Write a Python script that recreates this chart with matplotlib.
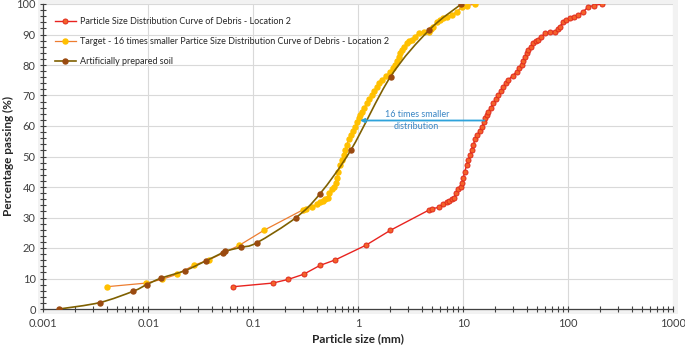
import numpy as np
import matplotlib.pyplot as plt
from matplotlib.path import Path
from matplotlib.patches import PathPatch, Rectangle
from matplotlib.ticker import LogLocator, MultipleLocator, FixedLocator, FixedFormatter, NullFormatter

plt.rcParams['font.family'] = ['Lato', 'DejaVu Sans']

# Particle size distribution of debris - location 2 (mm, % passing)
debris_size = [0.064, 0.153, 0.215, 0.302, 0.432, 0.604, 1.18, 2.02, 4.74, 5.03,
               5.83, 6.45, 6.95, 7.3, 7.76, 8.15, 8.45, 8.96, 9.45, 9.74,
               10.0, 10.3, 10.8, 11.2, 11.6, 12.0, 12.4, 13.0, 13.6, 14.3,
               15.0, 15.6, 16.1, 16.7, 17.3, 18.2, 19.3, 20.4, 21.6, 22.8,
               24.0, 25.4, 26.8, 29.5, 32.3, 34.2, 36.0, 37.4, 38.7, 40.2,
               41.7, 44.0, 46.4, 49.0, 51.8, 55.5, 60.0, 67.0, 74.6, 79.0,
               83.1, 89.5, 95.0, 103.6, 113.0, 124.0, 139.0, 155.0, 175.0, 208.0]
debris_pass = [7.3, 8.5, 9.7, 11.4, 14.3, 16.1, 20.9, 25.8, 32.5, 32.9,
               33.3, 34.5, 35.2, 35.5, 36.0, 36.5, 37.9, 39.2, 40.1, 41.2,
               42.9, 45.0, 47.2, 48.9, 50.5, 52.1, 53.8, 55.6, 57.0, 58.5,
               59.6, 61.2, 62.5, 63.5, 64.7, 66.0, 67.4, 68.8, 70.2, 71.6,
               72.9, 74.0, 75.1, 76.5, 77.8, 78.9, 80.0, 81.4, 82.7, 83.8,
               84.9, 86.0, 87.1, 87.8, 88.2, 89.3, 90.4, 90.7, 90.9, 91.8,
               92.6, 94.2, 94.8, 95.3, 95.9, 96.4, 97.5, 99.1, 99.5, 100.0]

# target curve, 16 times smaller
target_size = [0.0040, 0.00956, 0.01344, 0.01888, 0.0270, 0.03775, 0.07375, 0.12625, 0.29625, 0.3144,
               0.3644, 0.4031, 0.4344, 0.4563, 0.485, 0.5094, 0.5281, 0.56, 0.5906, 0.6088,
               0.625, 0.6438, 0.675, 0.70, 0.725, 0.75, 0.775, 0.8125, 0.85, 0.8938,
               0.9375, 0.975, 1.006, 1.044, 1.081, 1.1375, 1.206, 1.275, 1.35, 1.425,
               1.5, 1.5875, 1.675, 1.844, 2.019, 2.1375, 2.25, 2.3375, 2.419, 2.5125,
               2.606, 2.75, 2.9, 3.0625, 3.2375, 3.469, 3.75, 4.1875, 4.6625, 4.9375,
               5.194, 5.594, 5.9375, 6.475, 7.0625, 7.75, 8.6875, 9.6875, 10.9375, 13.0]
target_pass = debris_pass

# artificially prepared soil
soil_size = [0.00142, 0.00344, 0.00715, 0.00966, 0.0132, 0.0224, 0.0354, 0.0512, 0.0541,
             0.0759, 0.1077, 0.2533, 0.432, 0.852, 2.03, 4.74, 9.6]
soil_pass = [0.0, 2.1, 5.8, 8.0, 10.1, 12.6, 15.8, 18.5, 19.0,
             20.2, 21.7, 29.9, 37.8, 52.2, 76.2, 91.5, 100.0]

x_ticks = [0.001, 0.01, 0.1, 1, 10, 100, 1000]
x_tick_labels = ['0.001', '0.01', '0.1', '1', '10', '100', '1000']


def smooth_path(xs, ys):
    # excel style smoothed line: bezier segments built in log-x space
    lx = np.log10(xs)
    ys = np.asarray(ys, dtype=float)
    n = len(lx)
    verts = [(xs[0], ys[0])]
    codes = [Path.MOVETO]
    for i in range(n - 1):
        p0 = (lx[max(i - 1, 0)], ys[max(i - 1, 0)])
        p1 = (lx[i], ys[i])
        p2 = (lx[i + 1], ys[i + 1])
        p3 = (lx[min(i + 2, n - 1)], ys[min(i + 2, n - 1)])
        c1 = (p1[0] + (p2[0] - p0[0]) / 6, p1[1] + (p2[1] - p0[1]) / 6)
        c2 = (p2[0] - (p3[0] - p1[0]) / 6, p2[1] - (p3[1] - p1[1]) / 6)
        verts += [(10 ** c1[0], c1[1]), (10 ** c2[0], c2[1]), (10 ** p2[0], p2[1])]
        codes += [Path.CURVE4] * 3
    return Path(verts, codes)


fig = plt.figure(figsize=(6.85, 3.49), dpi=100)
fig.patches.append(Rectangle((38 / 685, 1 - 314 / 349), 640 / 685, 314 / 349,
                             transform=fig.transFigure, facecolor='#F2F2F2',
                             edgecolor='none', zorder=-10))
ax = fig.add_axes([43.3 / 685, 1 - 309 / 349, 630 / 685, 305 / 349])
ax.set_facecolor('white')

ax.plot(debris_size, debris_pass, color='#E8231F', lw=1.0, marker='o', ms=3.6,
        mfc='#F4622A', mec='#E02A1E', mew=0.7, zorder=3,
        label='Particle Size Distribution Curve of Debris - Location 2')
ax.plot(target_size, target_pass, color='#ED7D31', lw=0.9, marker='o', ms=3.6,
        mfc='#FFC000', mec='#FFC000', zorder=4,
        label='Target - 16 times smaller Partice Size Distribution Curve of Debris - Location 2')
ax.add_patch(PathPatch(smooth_path(soil_size, soil_pass), facecolor='none',
                       edgecolor='#7F6000', lw=1.2, zorder=5))
ax.plot(soil_size, soil_pass, color='#7F6000', lw=1.2, ls='none', marker='o', ms=3.6,
        mfc='#9A4A10', mec='#9A4A10', zorder=6)
ax.plot([], [], color='#7F6000', lw=1.2, marker='o', ms=3.6, mfc='#9A4A10', mec='#9A4A10',
        label='Artificially prepared soil')

ax.annotate('', xy=(1.04, 61.8), xytext=(15.85, 61.8),
            arrowprops=dict(arrowstyle='-|>', color='#2EA3DB', lw=1.3,
                            mutation_scale=6, shrinkA=0, shrinkB=0), zorder=7)
ax.text(3.6, 61.8, '16 times smaller\ndistribution', color='#3A86C4', fontsize=6.5,
        ha='center', va='center', linespacing=1.5, zorder=7)

ax.set_xscale('log')
ax.set_xlim(0.001, 1000)
ax.set_ylim(0, 100)
ax.xaxis.set_major_locator(FixedLocator(x_ticks))
ax.xaxis.set_major_formatter(FixedFormatter(x_tick_labels))
ax.xaxis.set_minor_locator(LogLocator(base=10, subs=np.arange(2, 10)))
ax.xaxis.set_minor_formatter(NullFormatter())
ax.yaxis.set_major_locator(MultipleLocator(10))
ax.yaxis.set_minor_locator(MultipleLocator(2))

ax.grid(True, which='major', color='#D9D9D9', lw=0.8, zorder=0)
ax.set_axisbelow(True)
for s in ['top', 'right']:
    ax.spines[s].set_visible(False)
for s in ['left', 'bottom']:
    ax.spines[s].set_color('#404040')
    ax.spines[s].set_linewidth(0.9)
ax.tick_params(which='both', direction='inout', length=5, width=0.8, color='#404040',
               labelsize=8, labelcolor='#404040')
ax.tick_params(axis='x', pad=4)
ax.tick_params(axis='y', pad=3)

ax.set_xlabel('Particle size (mm)', fontsize=8.5, fontweight='bold', color='#262626')
ax.set_ylabel('Percentage passing (%)', fontsize=8.5, fontweight='bold', color='#262626')
ax.xaxis.set_label_coords(0.5, -0.078)
ax.yaxis.set_label_coords(-0.046, 0.5)

ax.legend(loc='upper left', bbox_to_anchor=(0.005, 0.985), frameon=False, fontsize=6.5,
          handlelength=2.4, handletextpad=0.4, labelspacing=1.25, labelcolor='#262626')

plt.savefig('out.png', dpi=100)
